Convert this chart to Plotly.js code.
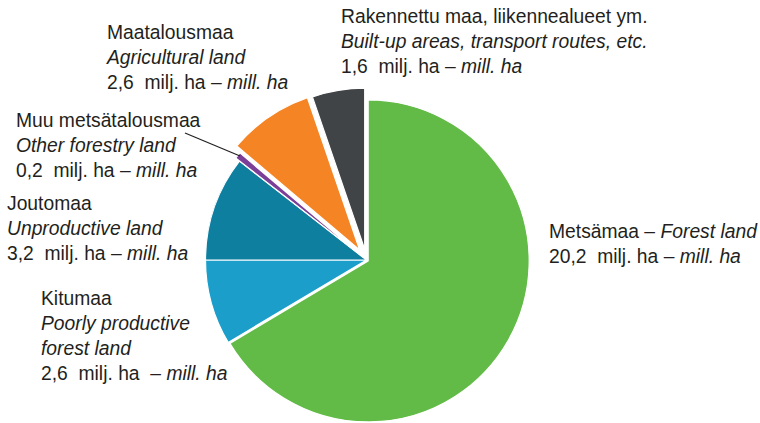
<!DOCTYPE html>
<html>
<head>
<meta charset="utf-8">
<script src="https://cdn.plot.ly/plotly-3.0.1.min.js"></script>
<style>
html, body { margin: 0; padding: 0; background: #fff; overflow: hidden; width: 760px; height: 423px; }
#chart { width: 760px; height: 450px; }
</style>
</head>
<body>
<div id="chart"></div>
<script>
// Data
const labelsFi = ["Metsämaa", "Kitumaa", "Joutomaa", "Muu metsätalousmaa", "Maatalousmaa", "Rakennettu maa, liikennealueet ym."];
const labelsEn = ["Forest land", "Poorly productive<br>forest land", "Unproductive land", "Other forestry land", "Agricultural land", "Built-up areas, transport routes, etc."];
const values = [20.2, 2.6, 3.2, 0.2, 2.6, 1.6];
const colors = ["#62bb47", "#1b9fca", "#0f7fa0", "#7b3f98", "#f58524", "#404447"];
const pulls = [0.012, 0, 0, 0.03, 0.075, 0.068];

const W = 760, H = 450;
const px = x => x / W;
const py = y => 1 - y / H;
const fmt = v => v.toFixed(1).replace('.', ',');
const NB = '\u00a0';

// pie box geometry
const cx = 366.5, cy = 260, r = 161, maxPull = Math.max(...pulls);
const half = r * (1 + maxPull);

const trace = {
  type: 'pie',
  labels: labelsFi,
  values: values,
  sort: false,
  direction: 'clockwise',
  rotation: 0,
  pull: pulls,
  textinfo: 'none',
  hoverinfo: 'label+value',
  marker: { colors: colors, line: { color: '#ffffff', width: 1.2 } },
  domain: { x: [px(cx - half), px(cx + half)], y: [py(cy + half), py(cy - half)] },
  showlegend: false
};

// label positions (left x, top y in pixels)
const pos = [
  [548, 220, 'one', ' '],   // Metsämaa
  [40, 287, 'multi', NB + ' '],  // Kitumaa
  [6, 192, 'multi', ' '],   // Joutomaa
  [15, 109, 'multi', ' '],  // Muu
  [105, 21, 'multi', ' '],  // Maatalous
  [340, 5, 'multi', ' ']    // Rakennettu
];

const annotations = labelsFi.map((fi, i) => {
  const amount = fmt(values[i]) + NB + NB + 'milj. ha' + pos[i][3] + '– <i>mill. ha</i>';
  const text = pos[i][2] === 'one'
    ? fi + ' – <i>' + labelsEn[i] + '</i><br>' + amount
    : fi + '<br><i>' + labelsEn[i] + '</i><br>' + amount;
  return {
    xref: 'paper', yref: 'paper',
    x: px(pos[i][0]), y: py(pos[i][1]),
    xanchor: 'left', yanchor: 'top', align: 'left',
    showarrow: false, borderpad: 0,
    text: text,
    font: { family: 'Liberation Sans, Arial, sans-serif', size: 19.3, color: '#231f20' }
  };
});

const layout = {
  width: W, height: H,
  margin: { l: 0, r: 0, t: 0, b: 0 },
  paper_bgcolor: '#ffffff',
  showlegend: false,
  annotations: annotations,
  shapes: [{
    type: 'line', xref: 'paper', yref: 'paper',
    x0: px(185), y0: py(133), x1: px(240), y1: py(156),
    line: { color: '#231f20', width: 1.2 }
  }]
};

Plotly.newPlot('chart', [trace], layout, { displayModeBar: false, staticPlot: true });
</script>
</body>
</html>
